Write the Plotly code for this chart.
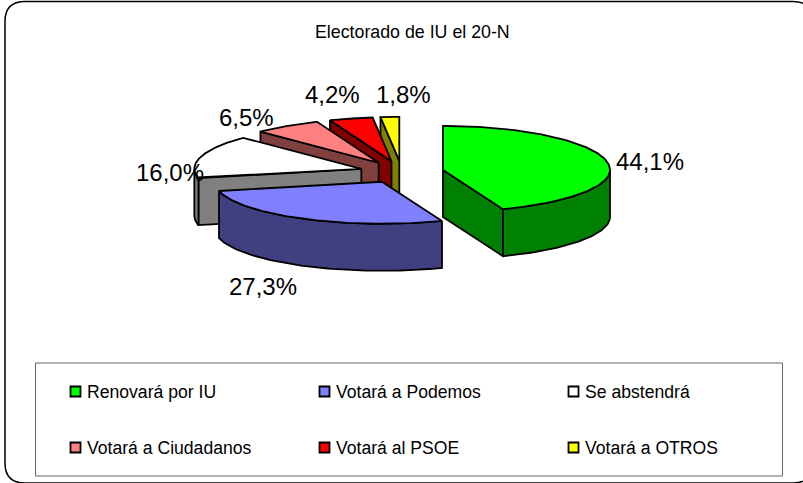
import numpy as np
import plotly.graph_objects as go

# Data
labels = ["Renovará por IU", "Votará a Podemos", "Se abstendrá",
          "Votará a Ciudadanos", "Votará al PSOE", "Votará a OTROS"]
values = [44.1, 27.3, 16.0, 6.5, 4.2, 1.8]
value_text = ["44,1%", "27,3%", "16,0%", "6,5%", "4,2%", "1,8%"]
top_colors = ["#00FF00", "#8080FF", "#FFFFFF", "#FF8080", "#FF0000", "#FFFF00"]
side_colors = ["#008000", "#404080", "#808080", "#804040", "#800000", "#808000"]
title = "Electorado de IU el 20-N"

# Pie projection
W, H = 803, 483
OX, OY = 401.7, 172.0
RX = 167.0
RY_BACK, RY_FRONT = 44.0, 42.0
DEPTH = 47.0
EXPLODE = 42.0
OUT = "#000000"
LW = 1.8

label_pos = [(650, 161), (263, 286), (170, 172), (246, 117), (332, 94), (403, 94)]
legend_x = [75.5, 324.5, 573.5]
legend_y = [391.5, 447.5]
legend_text_dx = 9


def proj(theta, cx, cy, r=1.0):
    s, c = np.sin(theta), np.cos(theta)
    ry = np.where(c >= 0, RY_BACK, RY_FRONT)
    return cx + r * RX * s, cy - r * ry * c


def poly(fig, x, y, color, name):
    fig.add_trace(go.Scatter(
        x=list(x), y=list(y), mode="lines", fill="toself", fillcolor=color,
        line=dict(color=OUT, width=LW), showlegend=False, name=name,
        hoverinfo="name"))


fig = go.Figure()
total = sum(values)
edges = np.cumsum([0.0] + values) / total * 2 * np.pi

# painter order: back to front
for i in [5, 4, 3, 2, 0, 1]:
    a0, a1 = edges[i], edges[i + 1]
    mid = (a0 + a1) / 2
    cx = OX + EXPLODE * np.sin(mid)
    cy = OY - EXPLODE * (RY_BACK / RX) * np.cos(mid)
    # radial walls that face the viewer
    for ang, normal in ((a0, a0 - np.pi / 2), (a1, a1 + np.pi / 2)):
        if np.cos(normal) < -1e-6:
            px, py = proj(ang, cx, cy)
            poly(fig, [cx, float(px), float(px), cx, cx],
                 [cy, float(py), float(py) + DEPTH, cy + DEPTH, cy],
                 side_colors[i], labels[i])
    # arc wall, front half only
    lo, hi = max(a0, np.pi / 2), min(a1, 3 * np.pi / 2)
    if hi > lo:
        t = np.linspace(lo, hi, 60)
        px, py = proj(t, cx, cy)
        poly(fig, np.r_[px, px[::-1], px[0]], np.r_[py, py[::-1] + DEPTH, py[0]],
             side_colors[i], labels[i])
    # top
    t = np.linspace(a0, a1, 120)
    px, py = proj(t, cx, cy)
    poly(fig, np.r_[cx, px, cx], np.r_[cy, py, cy], top_colors[i], labels[i])

# Legend swatches
for i, lab in enumerate(labels):
    lx = legend_x[i % 3]
    ly = legend_y[i // 3]
    fig.add_trace(go.Scatter(
        x=[lx], y=[ly], mode="markers", name=lab, showlegend=False,
        marker=dict(symbol="square", size=10, color=top_colors[i],
                    line=dict(color=OUT, width=1.8)), hoverinfo="name"))
    fig.add_annotation(x=lx + legend_text_dx, y=ly, text=lab, xanchor="left", yanchor="middle",
                       showarrow=False, font=dict(size=17.6, color="#000000"), xref="x", yref="y")

# Value labels
for (lx, ly), txt in zip(label_pos, value_text):
    fig.add_annotation(x=lx, y=ly, text=txt, showarrow=False, xanchor="center", yanchor="middle",
                       font=dict(size=24, color="#000000"), xref="x", yref="y")

fig.add_annotation(x=412, y=32, text=title, showarrow=False, xanchor="center", yanchor="middle",
                   font=dict(size=17.8, color="#000000"), xref="x", yref="y")

# Frame and legend box
L, R, T, B, C = 5, 813, 1.5, 483, 20
frame = (f"M{L + C},{T} L{R - C},{T} Q{R},{T} {R},{T + C} L{R},{B - C} Q{R},{B} {R - C},{B} "
         f"L{L + C},{B} Q{L},{B} {L},{B - C} L{L},{T + C} Q{L},{T} {L + C},{T} Z")
fig.add_shape(type="path", path=frame, xref="x", yref="y",
              line=dict(color="#000000", width=1.5), layer="below")
fig.add_shape(type="rect", x0=35.5, x1=782.5, y0=363, y1=476, xref="x", yref="y",
              line=dict(color="#666666", width=1), fillcolor="#FFFFFF", layer="below")

fig.update_layout(
    width=W, height=H, margin=dict(l=0, r=0, t=0, b=0),
    paper_bgcolor="#FFFFFF", plot_bgcolor="#FFFFFF", showlegend=False,
    font=dict(family="Liberation Sans, Arial, sans-serif"),
    xaxis=dict(range=[0, W], visible=False, fixedrange=True),
    yaxis=dict(range=[H, 0], visible=False, fixedrange=True),
)
fig.write_html("out.html", config={"displayModeBar": False},
               post_script="document.body.style.margin='0';document.documentElement.style.overflow='hidden';")
